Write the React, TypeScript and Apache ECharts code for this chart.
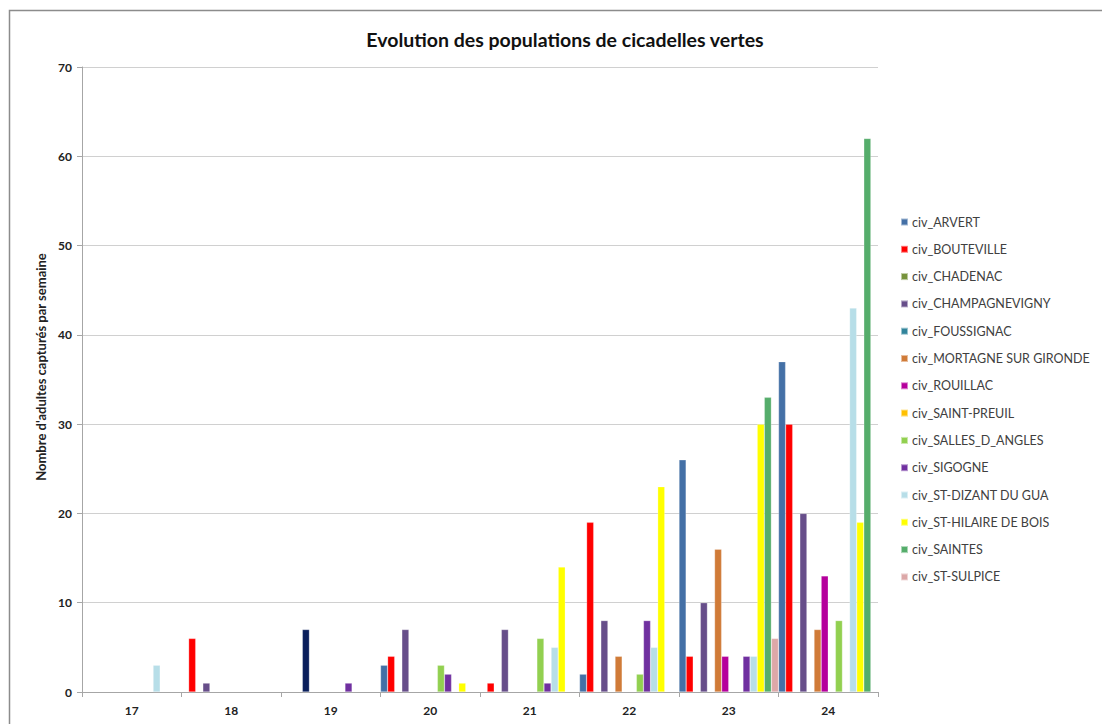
import React, { useEffect, useRef } from "react";
import * as echarts from "echarts";

const weeks = ["17", "18", "19", "20", "21", "22", "23", "24"];

const seriesNames = [
  "civ_ARVERT",
  "civ_BOUTEVILLE",
  "civ_CHADENAC",
  "civ_CHAMPAGNEVIGNY",
  "civ_FOUSSIGNAC",
  "civ_MORTAGNE SUR GIRONDE",
  "civ_ROUILLAC",
  "civ_SAINT-PREUIL",
  "civ_SALLES_D_ANGLES",
  "civ_SIGOGNE",
  "civ_ST-DIZANT DU GUA",
  "civ_ST-HILAIRE DE BOIS",
  "civ_SAINTES",
  "civ_ST-SULPICE",
];

const seriesColors = [
  "#4470A6",
  "#FF0000",
  "#77933C",
  "#674E8A",
  "#31849B",
  "#D07B38",
  "#B5009C",
  "#FFC000",
  "#92D050",
  "#7030A0",
  "#B7DEE8",
  "#FFFF00",
  "#55AD6B",
  "#DCA8A8",
];

const arvert = [null, null, null, 3, null, 2, 26, 37];
const bouteville = [null, 6, null, 4, 1, 19, 4, 30];
const chadenac = [null, null, null, null, null, null, null, null];
const champagnevigny = [null, 1, 7, 7, 7, 8, 10, 20];
const foussignac = [null, null, null, null, null, null, null, null];
const mortagne = [null, null, null, null, null, 4, 16, 7];
const rouillac = [null, null, null, null, null, null, 4, 13];
const saintPreuil = [null, null, null, null, null, null, null, null];
const salles = [null, null, null, 3, 6, 2, null, 8];
const sigogne = [null, null, 1, 2, 1, 8, 4, null];
const stDizant = [3, null, null, null, 5, 5, 4, 43];
const stHilaire = [null, null, null, 1, 14, 23, 30, 19];
const saintes = [null, null, null, null, null, null, 33, 62];
const stSulpice = [null, null, null, null, null, null, 6, null];

// one point drawn in a dark navy in the original (CHAMPAGNEVIGNY, week 19)
const navyPoint = { series: 3, index: 2, color: "#0A1F5C" };

const seriesData = [
  arvert,
  bouteville,
  chadenac,
  champagnevigny,
  foussignac,
  mortagne,
  rouillac,
  saintPreuil,
  salles,
  sigogne,
  stDizant,
  stHilaire,
  saintes,
  stSulpice,
];

const FONT = "Lato, 'Open Sans', sans-serif";

export default function App() {
  const ref = useRef<HTMLDivElement>(null);

  useEffect(() => {
    if (!ref.current) return;
    const chart = echarts.init(ref.current, null, { renderer: "svg" });

    const series = seriesNames.map((name, si) => ({
      name,
      type: "bar",
      barGap: "0%",
      barCategoryGap: "0%",
      itemStyle: {
        color: seriesColors[si],
        borderColor: "rgba(255,255,255,0.5)",
        borderWidth: 0.5,
      },
      data: seriesData[si].map((v, i) =>
        si === navyPoint.series && i === navyPoint.index
          ? { value: v, itemStyle: { color: navyPoint.color } }
          : v
      ),
    }));

    chart.setOption({
      animation: false,
      backgroundColor: "#ffffff",
      textStyle: { fontFamily: FONT },
      title: {
        text: "Evolution des populations de cicadelles vertes",
        left: 560,
        textAlign: "center",
        top: 24,
        textStyle: {
          fontFamily: FONT,
          fontSize: 19.5,
          fontWeight: "bold",
          color: "#111111",
        },
      },
      graphic: [
        {
          type: "polyline",
          shape: {
            points: [
              [9.5, 724],
              [9.5, 10.5],
              [1102, 10.5],
            ],
          },
          style: { stroke: "#8c8c8c", lineWidth: 1.5, fill: "none" },
          silent: true,
        },
      ],
      legend: {
        orient: "vertical",
        left: 895,
        top: 210,
        itemWidth: 7,
        itemHeight: 7,
        itemGap: 13.3,
        icon: "rect",
        data: seriesNames,
        textStyle: {
          fontFamily: FONT,
          fontSize: 12.5,
          color: "#404040",
          lineHeight: 14,
          padding: [0, 0, 0, -1],
        },
      },
      grid: {
        left: 82,
        right: 224,
        top: 67,
        bottom: 32,
        containLabel: false,
      },
      xAxis: {
        type: "category",
        data: weeks,
        boundaryGap: true,
        axisLine: { show: true, lineStyle: { color: "#A6A6A6", width: 1 } },
        axisTick: { show: true, length: 5, lineStyle: { color: "#A6A6A6" } },
        axisLabel: {
          fontFamily: FONT,
          fontSize: 12,
          fontWeight: "bold",
          color: "#222222",
          margin: 12,
        },
        splitLine: { show: false },
      },
      yAxis: {
        type: "value",
        min: 0,
        max: 70,
        interval: 10,
        name: "Nombre d'adultes capturés par semaine",
        nameLocation: "middle",
        nameGap: 34,
        nameRotate: 90,
        nameTextStyle: {
          fontFamily: FONT,
          fontSize: 13,
          fontWeight: "bold",
          color: "#222222",
          padding: [0, 0, 0, 25],
        },
        axisLine: { show: true, lineStyle: { color: "#A6A6A6", width: 1 } },
        axisTick: { show: true, length: 5, lineStyle: { color: "#A6A6A6" } },
        axisLabel: {
          fontFamily: FONT,
          fontSize: 12,
          fontWeight: "bold",
          color: "#222222",
          margin: 10,
        },
        splitLine: { show: true, lineStyle: { color: "#D0D0D0", width: 1 } },
      },
      series,
    });

    return () => chart.dispose();
  }, []);

  return (
    <div
      ref={ref}
      style={{
        width: 1102,
        height: 724,
        position: "absolute",
        left: 0,
        top: 0,
        background: "#fff",
      }}
    />
  );
}
